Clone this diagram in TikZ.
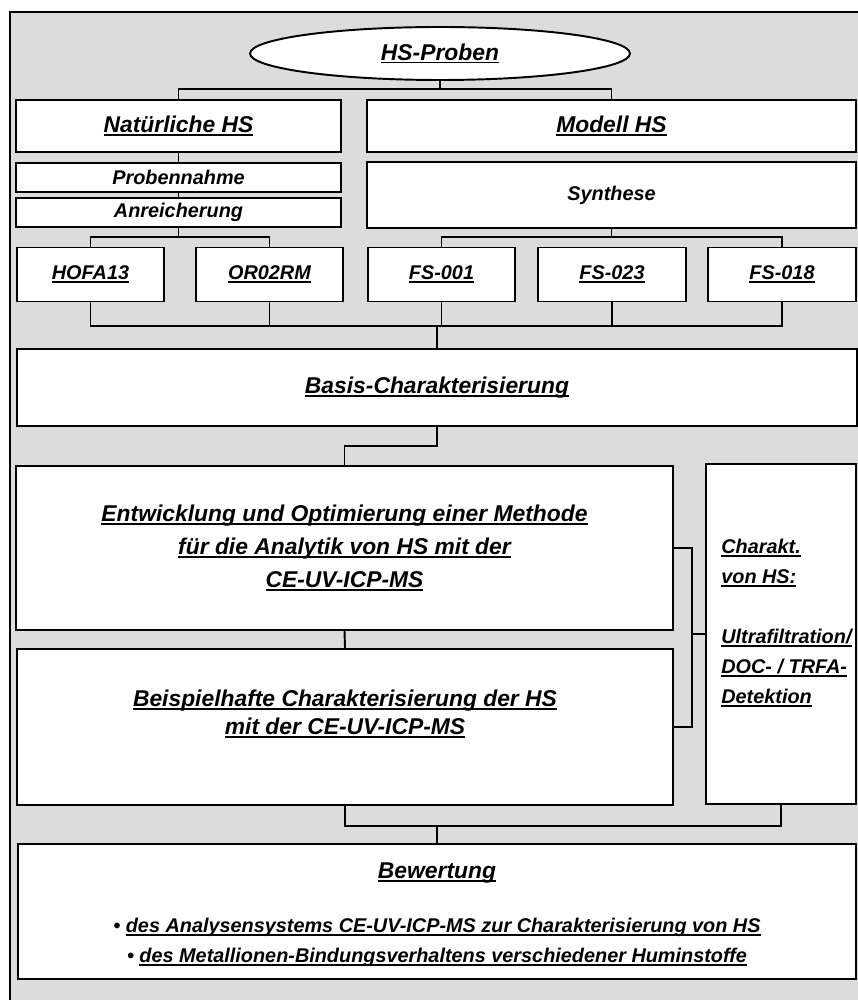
\documentclass[tikz,border=0pt]{standalone}
\usepackage{fontspec}
\setmainfont{Liberation Sans}
\usetikzlibrary{shapes.geometric}
\definecolor{panelgray}{RGB}{220,220,220}
\newcommand{\bigfont}{\fontsize{13}{18.7}\selectfont\bfseries\itshape}
\newcommand{\smallfont}{\fontsize{11.3}{17}\selectfont\bfseries\itshape}
% underline as a rule below the text
\newcommand{\uln}[1]{\leavevmode\setbox0\hbox{#1}\rlap{\rule[-1.9pt]{\wd0}{1pt}}\box0}

\begin{document}
\begin{tikzpicture}[x=0.02cm,y=-0.02cm,
    box/.style={draw=black, fill=white, line width=1.1pt, inner sep=0pt, align=center, font=\bigfont},
    lbl/.style={inner sep=0pt},
    link/.style={line width=1.1pt}]
    \useasboundingbox (0,0) rectangle (858,1000);
    % panel
    \fill[panelgray] (10,12) rectangle (858,1000);
    \draw[line width=1.6pt] (10,1000) -- (10,12) -- (858,12);

    % top levels
    \node[box, ellipse, minimum width=7.6cm, minimum height=1.06cm] (proben) at (440,53.5) {\uln{HS-Proben}};
    \node[box, minimum width=6.5cm, minimum height=1.04cm] (nat) at (178.5,126) {\uln{Natürliche HS}};
    \node[box, minimum width=9.78cm, minimum height=1.04cm] (modell) at (611.5,126) {\uln{Modell HS}};
    \node[box, font=\smallfont, minimum width=6.5cm, minimum height=0.58cm] (probe) at (178.5,177.5) {Probennahme};
    \node[box, font=\smallfont, minimum width=6.5cm, minimum height=0.58cm] (anr) at (178.5,212.5) {Anreicherung};
    \node[box, font=\smallfont, minimum width=9.78cm, minimum height=1.32cm] (synth) at (611.5,195) {Synthese};

    % samples
    \foreach \nm/\xc/\bw/\txt in {hofa/90.5/2.94/HOFA13, or02/269.5/2.94/OR02RM, fs001/441.5/2.94/FS-001, fs023/612/2.96/FS-023, fs018/782/2.96/FS-018}{
        \node[box, font=\smallfont, minimum width=\bw cm, minimum height=1.08cm] (\nm) at (\xc,274.5) {\uln{\txt}};
    }

    \node[box, minimum width=16.8cm, minimum height=1.54cm] (basis) at (437,387.5) {\uln{Basis-Charakterisierung}};
    \node[box, minimum width=13.14cm, minimum height=3.28cm] (entw) at (344.5,548)
        {\uln{Entwicklung und Optimierung einer Methode}\\ \uln{für die Analytik von HS mit der}\\ \uln{CE-UV-ICP-MS}};
    \node[box, minimum width=13.12cm, minimum height=3.12cm] (beisp) at (345,727) {};
    \node[lbl, align=center, font=\fontsize{13}{15.9}\selectfont\bfseries\itshape] (beisptxt) at (345,714)
        {\uln{Beispielhafte Charakterisierung der HS}\\ \uln{mit der CE-UV-ICP-MS}};
    \node[box, minimum width=3.0cm, minimum height=6.8cm] (charakt) at (781,634) {};
    \node[lbl, align=left, anchor=west, font=\smallfont] (charakttxt) at (721,623)
        {\uln{Charakt.}\\ \uln{von HS:}\\[17pt] \uln{Ultrafiltration/}\\ \uln{DOC- / TRFA-}\\ \uln{Detektion}};
    \node[box, minimum width=16.76cm, minimum height=2.7cm] (bew) at (437,911.5) {};
    \node[lbl, font=\bigfont] (bewhead) at (437,873) {\uln{Bewertung}};
    \node[lbl, align=center, font=\smallfont] (bewlist) at (437,942.5)
        {• \uln{des Analysensystems CE-UV-ICP-MS zur Charakterisierung von HS}\\
         • \uln{des Metallionen-Bindungsverhaltens verschiedener Huminstoffe}};

    % connectors
    \draw[link] (nat.north) -- ++(0,-10) coordinate (topbar) -| (modell.north);
    \draw[link] (proben.south) -- (proben.south |- topbar);
    \draw[link] (nat.south) -- (probe.north);
    \draw[link] (probe.south) -- (anr.north);
    \draw[link] (hofa.north) -- ++(0,-10) coordinate (natbar) -| (or02.north);
    \draw[link] (anr.south) -- (anr.south |- natbar);
    \draw[link] (fs001.north) -- ++(0,-10) coordinate (synbar) -| (fs018.north);
    \draw[link] (synth.south) -- (synth.south |- synbar);
    \draw[link] (hofa.south) -- ++(0,24) coordinate (sampbar) -| (fs018.south);
    \foreach \nm in {or02,fs001,fs023}{
        \draw[link] (\nm.south) -- (\nm.south |- sampbar);
    }
    \draw[link] (basis.north) -- (basis.north |- sampbar);
    \draw[link] (basis.south) -- ++(0,19) -| (entw.north);
    \draw[link] (entw.south) -- (beisp.north);
    \draw[link] (entw.east) -- ++(18,0) coordinate (brack) |- (beisp.east);
    \draw[link] (charakt.west) -- (charakt.west -| brack);
    \draw[link] (beisp.south) -- ++(0,20) coordinate (lowbar) -| (charakt.south);
    \draw[link] (bew.north) -- (bew.north |- lowbar);
\end{tikzpicture}
\end{document}
